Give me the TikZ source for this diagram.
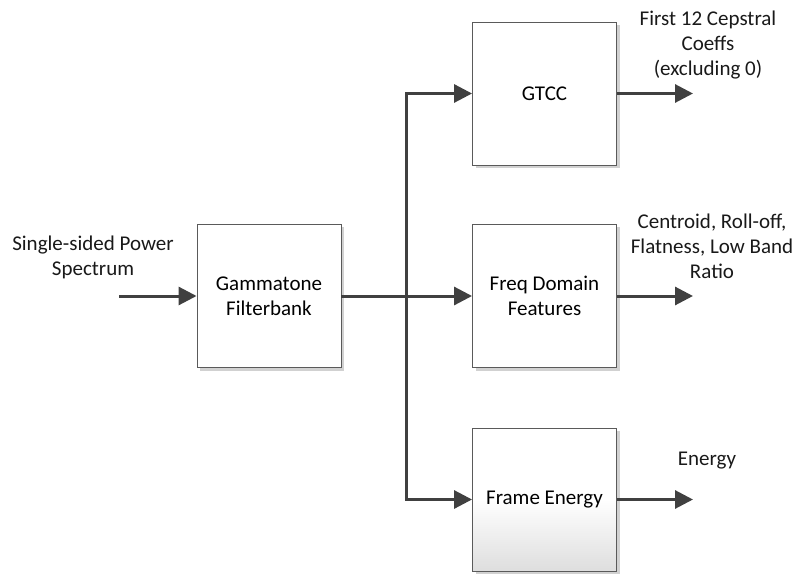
\documentclass[tikz,border=0pt]{standalone}
\usepackage{fontspec}
\setmainfont{Carlito}
\usetikzlibrary{arrows.meta,shadows}
\definecolor{linec}{HTML}{404040}
\definecolor{boxc}{HTML}{5A5A5A}
\begin{document}
\begin{tikzpicture}[x=1pt,y=-1pt,
  font=\fontsize{21}{25}\selectfont,
  block/.style={draw=boxc,line width=0.9pt,fill=white,minimum width=144pt,minimum height=143pt,
    align=center,inner sep=0pt,
    drop shadow={shadow xshift=3pt,shadow yshift=-3pt,fill=black!18,opacity=1}},
  conn/.style={draw=linec,line width=3pt},
  arr/.style={conn,-{Triangle[length=18pt,width=18pt]}},
  lbl/.style={align=center,inner sep=0pt,text=black!90}]
\useasboundingbox (0,0) rectangle (796,575);
\node[block] (gam) at (269,296) {Gammatone\\Filterbank};
\node[block] (gtcc) at (544.5,93.5) {GTCC};
\node[block] (freq) at (544.5,296) {Freq Domain\\Features};
\node[block,top color=white,bottom color=black!13,middle color=white] (frame) at (544.5,499.5) {Frame Energy};
\coordinate (in) at (119,296);
\coordinate (split) at (406,296);
\coordinate (o1) at (693,93.5);
\coordinate (o2) at (693,296);
\coordinate (o3) at (693,499.5);
\node[lbl] (l0) at (93,257) {Single-sided Power\\Spectrum};
\node[lbl] (l1) at (708,45) {First 12 Cepstral\\Coeffs\\(excluding 0)};
\node[lbl] (l2) at (712,246) {Centroid, Roll-off,\\Flatness, Low Band\\Ratio};
\node[lbl] (l3) at (707,461) {Energy};
\draw[arr] (in) -- (gam.west);
\draw[arr] (gam.east) -- (freq.west);
\draw[arr] (split) |- (gtcc.west);
\draw[arr] (split) |- (frame.west);
\draw[arr] (gtcc.east) -- (o1);
\draw[arr] (freq.east) -- (o2);
\draw[arr] (frame.east) -- (o3);
\end{tikzpicture}
\end{document}
